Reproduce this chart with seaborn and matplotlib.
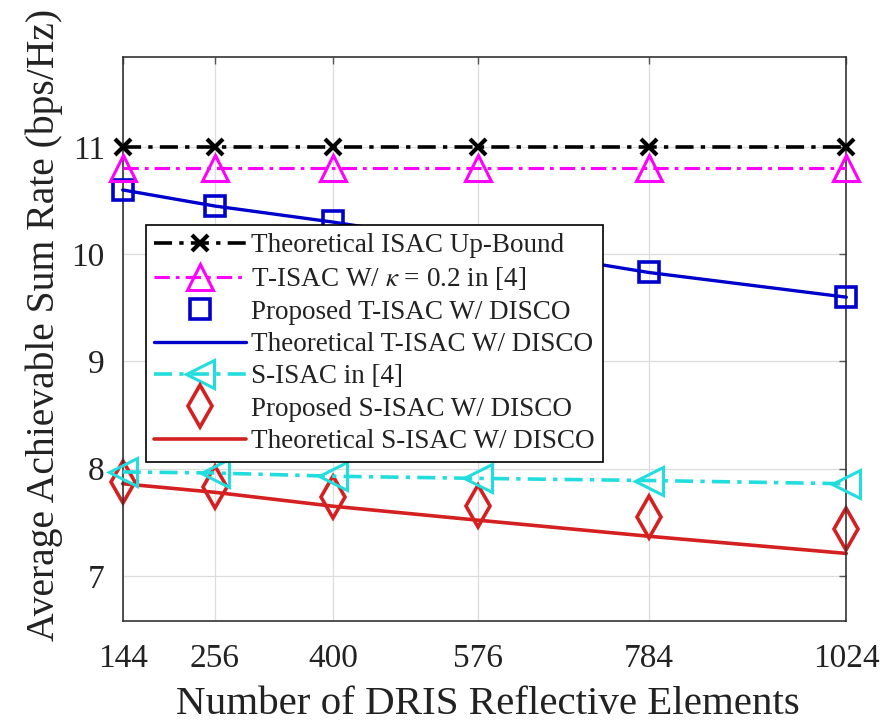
import numpy as np
import pandas as pd
import matplotlib
matplotlib.use("Agg")
import matplotlib.pyplot as plt
import seaborn as sns

# ---- data ----
n_elements = [144, 256, 400, 576, 784, 1024]
upper_bound = [11.0, 11.0, 11.0, 11.0, 11.0, 11.0]
tisac_kappa = [10.8, 10.8, 10.8, 10.8, 10.8, 10.8]
prop_tisac = [10.60, 10.45, 10.31, 10.09, 9.83, 9.60]
theo_tisac = [10.60, 10.45, 10.30, 10.09, 9.83, 9.60]
sisac_ref = [7.97, 7.96, 7.93, 7.91, 7.89, 7.86]
prop_sisac = [7.88, 7.83, 7.74, 7.65, 7.55, 7.44]
theo_sisac = [7.86, 7.78, 7.65, 7.52, 7.37, 7.21]
x_ticks = [144, 256, 400, 576, 784, 1024]
y_ticks = [7, 8, 9, 10, 11]

labels = [
    "Theoretical ISAC Up-Bound",
    r"T-ISAC W/ $\kappa$ = 0.2 in [4]",
    "Proposed T-ISAC W/ DISCO",
    "Theoretical T-ISAC W/ DISCO",
    "S-ISAC in [4]",
    "Proposed S-ISAC W/ DISCO",
    "Theoretical S-ISAC W/ DISCO",
]

sns.set_theme(style="whitegrid")
plt.rcParams["font.family"] = ["Liberation Serif", "DejaVu Serif"]
plt.rcParams["mathtext.fontset"] = "stix"

fig = plt.figure(figsize=(8.89, 7.24), dpi=100)
ax = fig.add_axes([0.138, 0.1423, 0.814, 0.779])

dashdot = (0, (5, 2.0, 1.2, 2.0))
black = "black"
mag = "#FF00FF"
blue = "#0000CC"
cyan = "#22DDDD"
red = "#D42020"
series = [
    (upper_bound, dict(color=black, linestyle=dashdot, linewidth=2.6, marker="x",
                       markersize=12, markeredgewidth=3.0, markeredgecolor=black)),
    (tisac_kappa, dict(color=mag, linestyle=dashdot, linewidth=2.2, marker="^",
                       markersize=19, markerfacecolor="none", markeredgewidth=2.2,
                       markeredgecolor=mag)),
    (prop_tisac, dict(color=blue, linestyle="none", marker="s",
                      markersize=15, markerfacecolor="none", markeredgewidth=2.6,
                      markeredgecolor=blue)),
    (theo_tisac, dict(color=blue, linestyle="-", linewidth=2.4)),
    (sisac_ref, dict(color=cyan, linestyle=dashdot, linewidth=2.6, marker="<",
                     markersize=20, markerfacecolor="none", markeredgewidth=2.2,
                     markeredgecolor=cyan)),
    (prop_sisac, dict(color=red, linestyle="none", marker="d",
                      markersize=21, markerfacecolor="none", markeredgewidth=2.6,
                      markeredgecolor=red)),
    (theo_sisac, dict(color=red, linestyle="-", linewidth=2.6)),
]

order_z = [7, 6, 5, 4, 3, 2, 1]
for (vals, kw), lab, z in zip(series, labels, order_z):
    df = pd.DataFrame({"N": n_elements, "rate": vals})
    sns.lineplot(data=df, x="N", y="rate", ax=ax, label=lab, zorder=z,
                 clip_on=False, **kw)

ax.set_xlim(144, 1024)
ax.set_ylim(6.58, 11.84)
ax.set_xticks(x_ticks)
ax.set_xticklabels([str(t) for t in x_ticks])
ax.set_yticks(y_ticks)
ax.tick_params(axis="both", direction="in", labelsize=24, length=5, width=1,
               color="#555555", top=True, right=True)
ax.tick_params(axis="x", pad=16)
ax.tick_params(axis="y", pad=13)
for lab in ax.get_xticklabels() + ax.get_yticklabels():
    lab.set_color("#222222")
ax.grid(True, color="#DDDDDD", linewidth=0.9)
for s in ax.spines.values():
    s.set_color("#333333")
    s.set_linewidth(1.2)

ax.set_xlabel("Number of DRIS Reflective Elements", fontsize=29.5, color="#222222")
ax.set_ylabel("Average Achievable Sum Rate (bps/Hz)", fontsize=28.5, color="#222222")
ax.xaxis.set_label_coords(0.505, -0.115)
ax.yaxis.set_label_coords(-0.083, 0.525)

leg = ax.legend(loc="upper left", bbox_to_anchor=(0.032, 0.702), fontsize=19.5,
                frameon=True, fancybox=False, framealpha=1, edgecolor="black",
                handlelength=3.4, handletextpad=0.2, borderpad=0.3,
                labelspacing=0.27, borderaxespad=0)
leg.get_frame().set_linewidth(1.2)
leg.set_zorder(10)
for t in leg.get_texts():
    t.set_color("#222222")

fig.savefig("out.png", dpi=100)
